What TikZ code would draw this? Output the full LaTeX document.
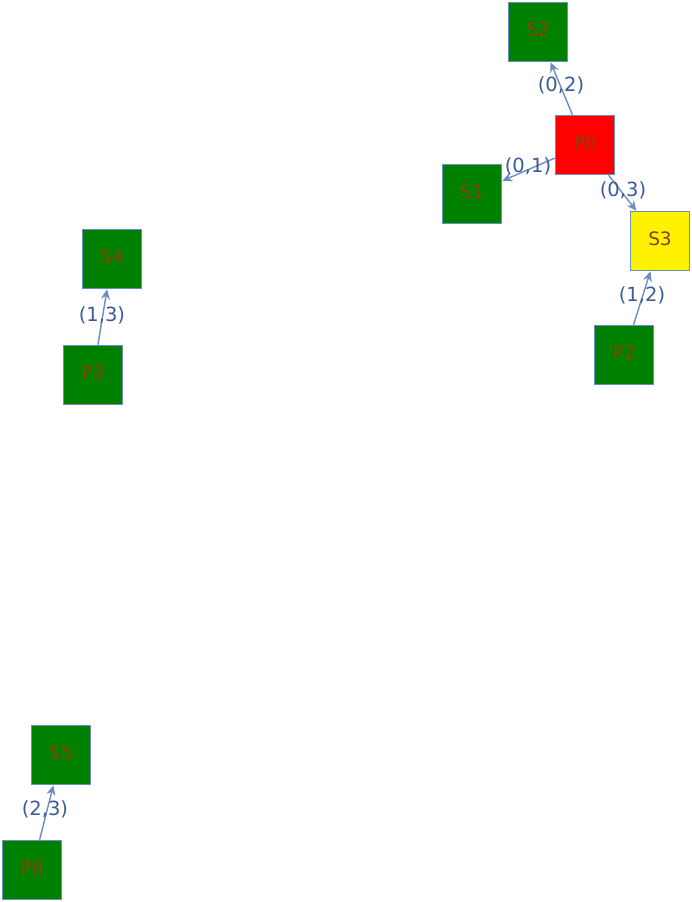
\documentclass[tikz,border=0pt]{standalone}
\usepackage{fontspec}
\setmainfont{DejaVu Sans}
\usetikzlibrary{arrows.meta}
\definecolor{bord}{HTML}{6C8EBF}
\definecolor{txt}{HTML}{8A4010}
\definecolor{lblc}{HTML}{3D5A99}
\definecolor{gfill}{HTML}{008000}
\newcommand{\bt}[1]{\raisebox{4pt}{#1}}
\begin{document}
\begin{tikzpicture}[x=1pt,y=-1pt,
  box/.style={draw=bord,line width=1.5pt,minimum size=59pt,inner sep=0pt,text=txt,font=\fontsize{18.5}{18.5}\selectfont},
  gbox/.style={box,fill=gfill},
  conn/.style={draw=bord,line width=1.4pt,-{Stealth[length=10pt,width=9pt]}},
  lbl/.style={text=lblc,inner sep=0pt,font=\fontsize{19.5}{19.5}\selectfont}]
\useasboundingbox (0,0) rectangle (692,902);
\node[gbox] (S2) at (538,32) {\bt{S2}};
\node[box,fill=red] (P0) at (585,145) {\bt{P0}};
\node[gbox] (S1) at (472,194) {\bt{S1}};
\node[box,fill=yellow] (S3) at (660,241) {\bt{S3}};
\node[gbox] (P2) at (624,355) {\bt{P2}};
\node[gbox] (S4) at (112,259) {\bt{S4}};
\node[gbox] (P3) at (93,375) {\bt{P3}};
\node[gbox] (S5) at (61,755) {\bt{S5}};
\node[gbox] (P6) at (32,870) {\bt{P6}};
\draw[conn] (P0) -- (S2);
\draw[conn] (P0) -- (S1);
\draw[conn] (P0) -- (S3);
\draw[conn] (P2) -- (S3);
\draw[conn] (P3) -- (S4);
\draw[conn] (P6) -- (S5);
\node[lbl] (L02) at (561,85) {(0,2)};
\node[lbl] (L01) at (528,166) {(0,1)};
\node[lbl] (L03) at (623,190) {(0,3)};
\node[lbl] (L12) at (642,295) {(1,2)};
\node[lbl] (L13) at (102,315) {(1,3)};
\node[lbl] (L23) at (45,809) {(2,3)};
\end{tikzpicture}
\end{document}
